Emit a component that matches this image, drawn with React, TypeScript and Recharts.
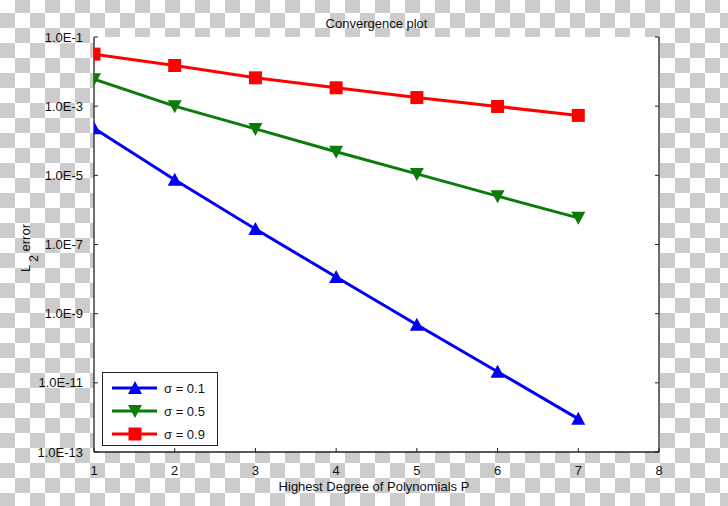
import React from "react";
import { LineChart, Line, XAxis, YAxis, CartesianGrid, Legend } from "recharts";

const degrees = [1, 2, 3, 4, 5, 6, 7];
const sigma01 = [2.3e-4, 7.4e-6, 2.8e-7, 1.15e-8, 4.8e-10, 2.1e-11, 9.1e-13];
const sigma05 = [6.0e-3, 1.0e-3, 2.2e-4, 4.8e-5, 1.1e-5, 2.5e-6, 5.9e-7];
const sigma09 = [3.2e-2, 1.5e-2, 6.6e-3, 3.4e-3, 1.77e-3, 9.8e-4, 5.4e-4];
const xTicks = [1, 2, 3, 4, 5, 6, 7, 8];
const yTicks = [1e-1, 1e-3, 1e-5, 1e-7, 1e-9, 1e-11, 1e-13];
const seriesNames = ["σ = 0.1", "σ = 0.5", "σ = 0.9"];

const data = degrees.map((d, i) => ({ p: d, s1: sigma01[i], s5: sigma05[i], s9: sigma09[i] }));

const W = 728;
const H = 506;
const PL = 94, PR = 659, PT = 37, PB = 452;
const FONT = "'Liberation Sans', Arial, Helvetica, sans-serif";
const AX = "#222";
const BLUE = "#0000f8";
const GREEN = "#0a7c0a";
const RED = "#ff0000";

const fmt = (v: number) => "1.0E" + Math.round(Math.log10(v));

// clip a polygon to the half-plane x >= xmin (plot's left edge)
function clipLeft(pts: number[][], xmin: number): number[][] {
  const out: number[][] = [];
  for (let i = 0; i < pts.length; i++) {
    const a = pts[i];
    const b = pts[(i + 1) % pts.length];
    const ain = a[0] >= xmin;
    const bin = b[0] >= xmin;
    if (ain) out.push(a);
    if (ain !== bin) {
      const t = (xmin - a[0]) / (b[0] - a[0]);
      out.push([xmin, a[1] + t * (b[1] - a[1])]);
    }
  }
  return out;
}

const Poly = ({ pts, fill, noClip }: any) => {
  const p = noClip ? pts : clipLeft(pts, PL);
  if (p.length < 3) return null;
  return <polygon points={p.map((q: number[]) => q.join(",")).join(" ")} fill={fill} />;
};

const TriUp = (p: any) => {
  const { cx, cy, fill, noClip } = p;
  if (cx == null || cy == null) return null;
  return <Poly fill={fill} noClip={noClip} pts={[[cx, cy - 7], [cx + 7, cy + 6], [cx - 7, cy + 6]]} />;
};
const TriDown = (p: any) => {
  const { cx, cy, fill, noClip } = p;
  if (cx == null || cy == null) return null;
  return <Poly fill={fill} noClip={noClip} pts={[[cx, cy + 7], [cx - 7, cy - 6], [cx + 7, cy - 6]]} />;
};
const Sq = (p: any) => {
  const { cx, cy, fill, noClip } = p;
  if (cx == null || cy == null) return null;
  return (
    <Poly fill={fill} noClip={noClip}
      pts={[[cx - 6.5, cy - 6.5], [cx + 6.5, cy - 6.5], [cx + 6.5, cy + 6.5], [cx - 6.5, cy + 6.5]]} />
  );
};

const LeftTick = (p: any) => (
  <g>
    <line x1={PL} x2={PL + 4} y1={p.y} y2={p.y} stroke={AX} strokeWidth={1} />
    <text x={PL - 11} y={p.y} dy="0.35em" textAnchor="end" fontSize={13} fontFamily={FONT} fill="#111">
      {fmt(p.payload.value)}
    </text>
  </g>
);
const RightTick = (p: any) => (
  <line x1={PR - 4} x2={PR} y1={p.y} y2={p.y} stroke={AX} strokeWidth={1} />
);
const BottomTick = (p: any) => (
  <g>
    <line x1={p.x} x2={p.x} y1={PB} y2={PB - 4} stroke={AX} strokeWidth={1} />
    <text x={p.x} y={470} dy="0.35em" textAnchor="middle" fontSize={13} fontFamily={FONT} fill="#111">
      {p.payload.value}
    </text>
  </g>
);
const TopTick = (p: any) => (
  <line x1={p.x} x2={p.x} y1={PT} y2={PT + 4} stroke={AX} strokeWidth={1} />
);

const colors = [BLUE, GREEN, RED];
const shapes = [TriUp, TriDown, Sq];

const LegendBox = () => (
  <div style={{ width: 116, height: 74, boxSizing: "border-box", border: `1px solid ${AX}`, background: "#fff" }}>
    <svg width={114} height={72} style={{ display: "block" }}>
      {seriesNames.map((n, i) => {
        const y = 15 + i * 23;
        const S = shapes[i];
        return (
          <g key={n}>
            <line x1={9} x2={54} y1={y} y2={y} stroke={colors[i]} strokeWidth={3} />
            <S cx={32} cy={y} fill={colors[i]} noClip />
            <text x={61} y={y} dy="0.35em" fontSize={13} fontFamily={FONT} fill="#111">{n}</text>
          </g>
        );
      })}
    </svg>
  </div>
);

export default function App() {
  return (
    <div
      style={{
        position: "absolute",
        left: 0,
        top: 0,
        width: W,
        height: H,
        backgroundColor: "#fff",
        backgroundImage: "conic-gradient(#cccccc 0 25%, #ffffff 0 50%, #cccccc 0 75%, #ffffff 0)",
        backgroundSize: "30px 30px",
        backgroundPosition: "0px -2px",
        fontFamily: FONT,
      }}
    >
      <LineChart width={W} height={H} data={data} margin={{ top: PT, right: 0, bottom: 0, left: 0 }}>
        <CartesianGrid xAxisId="b" yAxisId="l" horizontal={false} vertical={false} fill="#ffffff" />
        <XAxis
          xAxisId="b"
          dataKey="p"
          type="number"
          domain={[1, 8]}
          ticks={xTicks}
          allowDataOverflow
          height={H - PB}
          axisLine={{ stroke: AX, strokeWidth: 1.3 }}
          tickLine={false}
          tick={<BottomTick />}
          interval={0}
        />
        <XAxis
          xAxisId="t"
          orientation="top"
          dataKey="p"
          type="number"
          domain={[1, 8]}
          ticks={xTicks}
          allowDataOverflow
          height={0}
          axisLine={{ stroke: AX, strokeWidth: 1.3 }}
          tickLine={false}
          tick={<TopTick />}
          interval={0}
        />
        <YAxis
          yAxisId="l"
          type="number"
          scale="log"
          domain={[1e-13, 1e-1]}
          ticks={yTicks}
          allowDataOverflow
          width={PL}
          axisLine={{ stroke: AX, strokeWidth: 1.3 }}
          tickLine={false}
          tick={<LeftTick />}
          interval={0}
        />
        <YAxis
          yAxisId="r"
          orientation="right"
          type="number"
          scale="log"
          domain={[1e-13, 1e-1]}
          ticks={yTicks}
          allowDataOverflow
          width={W - PR}
          axisLine={{ stroke: AX, strokeWidth: 1.3 }}
          tickLine={false}
          tick={<RightTick />}
          interval={0}
        />
        <Line xAxisId="b" yAxisId="l" dataKey="s1" name={seriesNames[0]} stroke={BLUE} strokeWidth={3}
          dot={<TriUp fill={BLUE} />} activeDot={false} isAnimationActive={false} />
        <Line xAxisId="b" yAxisId="l" dataKey="s5" name={seriesNames[1]} stroke={GREEN} strokeWidth={3}
          dot={<TriDown fill={GREEN} />} activeDot={false} isAnimationActive={false} />
        <Line xAxisId="b" yAxisId="l" dataKey="s9" name={seriesNames[2]} stroke={RED} strokeWidth={3}
          dot={<Sq fill={RED} />} activeDot={false} isAnimationActive={false} />
        <Legend
          layout="horizontal"
          verticalAlign="middle"
          align="center"
          content={<LegendBox />}
          wrapperStyle={{ position: "absolute", left: 102, top: 372, width: 116, height: 74, bottom: "auto", right: "auto", margin: 0 }}
        />
      </LineChart>
      <div style={{ position: "absolute", left: (PL + PR) / 2, top: 23, transform: "translate(-50%, -50%)", fontSize: 13, color: "#111", whiteSpace: "nowrap" }}>
        Convergence plot
      </div>
      <div style={{ position: "absolute", left: 374, top: 486, transform: "translate(-50%, -50%)", fontSize: 13, color: "#111", whiteSpace: "nowrap" }}>
        Highest Degree of Polynomials P
      </div>
      <div style={{ position: "absolute", left: 26, top: 248, transform: "translate(-50%, -50%) rotate(-90deg)", fontSize: 13, color: "#111", whiteSpace: "nowrap", lineHeight: "16px" }}>
        L<span style={{ fontSize: 12, position: "relative", top: 8, marginLeft: 3 }}>2</span> error
      </div>
    </div>
  );
}
